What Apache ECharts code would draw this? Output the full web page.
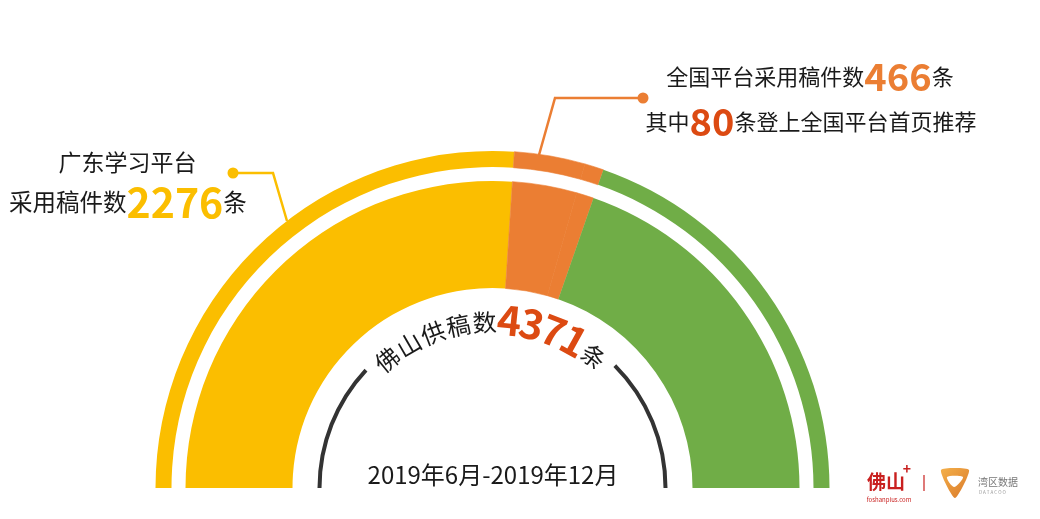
<!DOCTYPE html>
<html><head><meta charset="utf-8">
<script src="https://cdn.jsdelivr.net/npm/echarts@6/dist/echarts.min.js"></script>
<style>html,body{margin:0;padding:0;background:#fff}#c{width:1040px;height:519px}</style>
</head><body><div id="c"></div>
<script>
// ---- data ----
const totalCount = 4371;
const segmentNames = ['广东学习平台采用', '全国平台采用', '登上全国平台首页推荐', '其他'];
const segmentValues = [2276, 296, 80, 1719];
const gdCount = 2276;
const nationalCount = 466;
const homepageCount = 80;
const periodLabel = '2019年6月-2019年12月';

// ---- style ----
const palette = ['#FBBE00', '#EB7E33', '#EB7E33', '#70AD47'];
const FONT = '"Noto Sans CJK SC","Noto Sans",sans-serif';
const CX = 492.5, CY = 488;
const RED = '#DC4A12';

const chart = echarts.init(document.getElementById('c'), null, {renderer: 'canvas'});

function pieData() {
  return segmentNames.map((n, i) => ({name: n, value: segmentValues[i],
    itemStyle: {color: palette[i], borderColor: palette[i], borderWidth: (i === 1 || i === 2) ? 0.6 : 0}}));
}
const pieBase = {
  type: 'pie', center: [CX, CY], startAngle: 180, endAngle: 0, clockwise: true,
  silent: true, label: {show: false}, labelLine: {show: false}, animation: false,
  emphasis: {disabled: true}
};

// curved title glyphs
function curvedTitle() {
  const parts = [];
  '佛山供稿数'.split('').forEach(c => parts.push({c, big: false}));
  String(totalCount).split('').forEach(c => parts.push({c, big: true}));
  parts.push({c: '条', big: false});
  const advSmall = 26.5, advBig = 22.5, R = 166;
  const adv = p => p.big ? advBig : advSmall;
  let total = 0;
  for (let i = 1; i < parts.length; i++) total += (adv(parts[i - 1]) + adv(parts[i])) / 2 / R;
  const mid = 90.95 * Math.PI / 180;
  let a = mid + total / 2;
  const els = [];
  parts.forEach((p, i) => {
    if (i > 0) a -= (adv(parts[i - 1]) + adv(p)) / 2 / R;
    const r = p.big ? 169 : 166;
    els.push({
      type: 'text', x: CX + r * Math.cos(a), y: CY - r * Math.sin(a),
      rotation: a - Math.PI / 2, silent: true,
      style: {
        text: p.c, align: 'center', verticalAlign: 'middle',
        font: (p.big ? 'bold 41px ' : '24px ') + FONT,
        fill: p.big ? RED : '#1a1a1a'
      }
    });
  });
  return els;
}

const graphics = [
  // dark inner arcs
  {type: 'arc', silent: true, shape: {cx: CX, cy: CY, r: 173, startAngle: Math.PI, endAngle: Math.PI * (1 + 43 / 180), clockwise: true},
   style: {stroke: '#333333', lineWidth: 4, fill: null}},
  {type: 'arc', silent: true, shape: {cx: CX, cy: CY, r: 173, startAngle: Math.PI * (2 - 45 / 180), endAngle: Math.PI * 2, clockwise: true},
   style: {stroke: '#333333', lineWidth: 4, fill: null}},
  // callouts
  {type: 'polyline', silent: true, shape: {points: [[233, 173], [273, 173], [287, 221]]}, style: {stroke: '#FBBE00', lineWidth: 2.5, fill: null}},
  {type: 'circle', silent: true, shape: {cx: 233, cy: 173, r: 5.5}, style: {fill: '#FBBE00'}},
  {type: 'polyline', silent: true, shape: {points: [[643, 98], [555, 98], [539, 155]]}, style: {stroke: '#EB7E33', lineWidth: 2.5, fill: null}},
  {type: 'circle', silent: true, shape: {cx: 643, cy: 98, r: 5.5}, style: {fill: '#EB7E33'}},
  // left annotation
  {type: 'text', x: 127.5, y: 162, silent: true, style: {text: '广东学习平台', align: 'center', verticalAlign: 'middle', font: '23px ' + FONT, fill: '#1a1a1a'}},
  {type: 'text', x: 9, y: 202, silent: true, style: {
    text: '采用稿件数{y|' + gdCount + '}条', align: 'left', verticalAlign: 'middle', font: '23.5px ' + FONT, fill: '#1a1a1a',
    rich: {y: {font: 'bold 41px ' + FONT, fill: '#FBBE00'}}}},
  // right annotation
  {type: 'text', x: 810, y: 77, silent: true, style: {
    text: '全国平台采用稿件数{o|' + nationalCount + '}条', align: 'center', verticalAlign: 'middle', font: '22px ' + FONT, fill: '#1a1a1a',
    rich: {o: {font: 'bold 38px ' + FONT, fill: '#EB7E33'}}}},
  {type: 'text', x: 811, y: 122, silent: true, style: {
    text: '其中{r|' + homepageCount + '}条登上全国平台首页推荐', align: 'center', verticalAlign: 'middle', font: '22px ' + FONT, fill: '#1a1a1a',
    rich: {r: {font: 'bold 38px ' + FONT, fill: RED}}}},
  // period
  {type: 'text', x: 493, y: 475, silent: true, style: {text: periodLabel, align: 'center', verticalAlign: 'middle', font: '24px ' + FONT, fill: '#1a1a1a'}},
  // logos
  {type: 'text', x: 867, y: 482, silent: true, style: {text: '佛山', align: 'left', verticalAlign: 'middle', font: 'bold 19px ' + FONT, fill: '#C9201F'}},
  {type: 'text', x: 907, y: 469, silent: true, style: {text: '+', align: 'center', verticalAlign: 'middle', font: 'bold 14px ' + FONT, fill: '#C9201F'}},
  {type: 'text', x: 889, y: 500, silent: true, style: {text: 'foshanplus.com', align: 'center', verticalAlign: 'middle', font: '6px ' + FONT, fill: '#C9201F'}},
  {type: 'line', silent: true, shape: {x1: 924, y1: 475, x2: 924, y2: 491}, style: {stroke: '#C9201F', lineWidth: 1.2}},
  {type: 'polygon', silent: true, shape: {points: [[941, 470], [969, 470], [955, 498]], smooth: 0.2},
   style: {fill: new echarts.graphic.LinearGradient(0, 0, 1, 1, [{offset: 0, color: '#F4B04A'}, {offset: 1, color: '#D9792A'}])}},
  {type: 'polygon', silent: true, shape: {points: [[947, 477], [963, 477], [954, 487]], smooth: 0.3}, style: {fill: '#ffffff'}},
  {type: 'text', x: 978, y: 482, silent: true, style: {text: '湾区数据', align: 'left', verticalAlign: 'middle', font: '10px ' + FONT, fill: '#777777'}},
  {type: 'text', x: 979, y: 492, silent: true, style: {text: 'D A T A C O O', align: 'left', verticalAlign: 'middle', font: '4.5px ' + FONT, fill: '#999999'}}
].concat(curvedTitle());

chart.setOption({
  animation: false,
  backgroundColor: '#ffffff',
  series: [
    Object.assign({}, pieBase, {name: 'outer', radius: [321, 337], data: pieData()}),
    Object.assign({}, pieBase, {name: 'inner', radius: [200, 307], data: pieData()})
  ],
  graphic: graphics
});
</script></body></html>
